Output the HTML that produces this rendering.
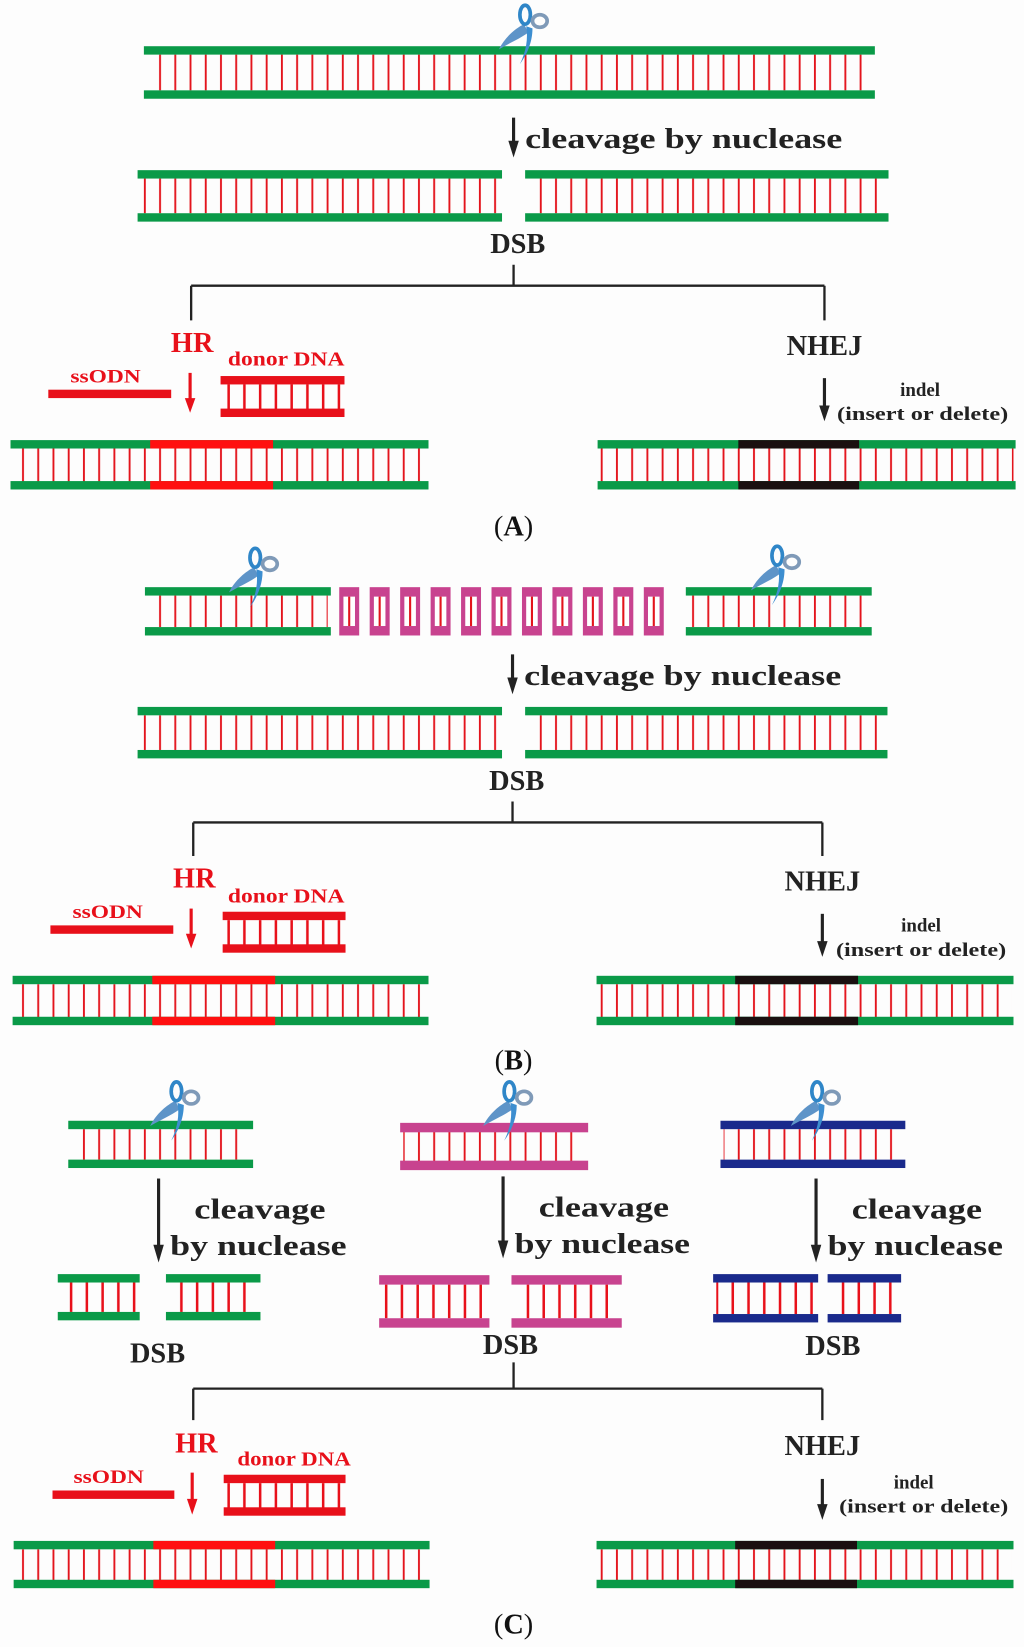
<!DOCTYPE html>
<html><head><meta charset="utf-8"><style>
html,body{margin:0;padding:0;background:#fdfdfd;}
svg{display:block;}
text{font-family:"Liberation Serif",serif;font-weight:bold;}
</style></head><body>
<svg width="1024" height="1647" viewBox="0 0 975 1568" preserveAspectRatio="none" xmlns="http://www.w3.org/2000/svg">
<defs>
<pattern id="r" patternUnits="userSpaceOnUse" width="14.5" height="10"><rect x="6.5" y="0" width="1.8" height="10" fill="#e3141c"/></pattern>
<pattern id="rs" patternUnits="userSpaceOnUse" width="15" height="10"><rect x="6.5" y="0" width="2.4" height="10" fill="#e8101a"/></pattern>
<g id="sc">
<path d="M2,-22 C-6,-18 -16,-10 -22,2 C-12,-4 -2,-8 6,-14Z" fill="#5e94c8"/>
<path d="M4,-20 C6,-8 4,4 -2,16 C4,8 10,-4 10,-18Z" fill="#3d8ed0"/>
<ellipse cx="3" cy="-31" rx="5" ry="9" fill="none" stroke="#2f86c8" stroke-width="3.5"/>
<ellipse cx="17" cy="-25" rx="7" ry="6" fill="none" stroke="#7f9ab8" stroke-width="3.5"/>
</g>
</defs>

<!-- arrows -->
<g fill="#222" stroke="none">
<rect x="487.5" y="112" width="3" height="24"/><path d="M484,134 L494,134 L489,150Z"/>
<rect x="486.5" y="623" width="3" height="24"/><path d="M483,645 L493,645 L488,661Z"/>
<rect x="149.5" y="1122" width="3" height="66"/><path d="M146,1185 L156,1185 L151,1202Z"/>
<rect x="477.5" y="1120" width="3" height="64"/><path d="M474,1181 L484,1181 L479,1198Z"/>
<rect x="775.5" y="1122" width="3" height="66"/><path d="M772,1185 L782,1185 L777,1202Z"/>
<rect x="783.5" y="360" width="3" height="28"/><path d="M780,386 L790,386 L785,401Z"/>
<rect x="781.5" y="870" width="3" height="28"/><path d="M778,896 L788,896 L783,911Z"/>
<rect x="781.5" y="1408" width="3" height="26"/><path d="M778,1432 L788,1432 L783,1447Z"/>
</g>

<!-- ===== Panel A ===== -->
<g>
<rect x="140" y="52" width="690" height="34" fill="url(#r)"/>
<rect x="137" y="44" width="696" height="8" fill="#0a9a48"/>
<rect x="137" y="86" width="696" height="8" fill="#0a9a48"/>
<use href="#sc" x="497" y="45"/>
<text x="500" y="141" font-size="27" textLength="302" lengthAdjust="spacingAndGlyphs" fill="#222">cleavage by nuclease</text>
<rect x="134" y="170" width="341" height="33" fill="url(#r)"/>
<rect x="131" y="162" width="347" height="8" fill="#0a9a48"/>
<rect x="131" y="203" width="347" height="8" fill="#0a9a48"/>
<rect x="503" y="170" width="340" height="33" fill="url(#r)"/>
<rect x="500" y="162" width="346" height="8" fill="#0a9a48"/>
<rect x="500" y="203" width="346" height="8" fill="#0a9a48"/>
<text x="493" y="241" font-size="27" text-anchor="middle" fill="#222">DSB</text>
<path d="M489,252 V272 M182,272 H785 M182,272 V305 M785,272 V305" stroke="#222" stroke-width="2.2" fill="none"/>
<text x="183" y="335" font-size="27" text-anchor="middle" fill="#e8101a">HR</text>
<text x="217" y="348" font-size="19" textLength="111" lengthAdjust="spacingAndGlyphs" fill="#e8101a">donor DNA</text>
<text x="67" y="364" font-size="18" textLength="67" lengthAdjust="spacingAndGlyphs" fill="#e8101a">ssODN</text>
<rect x="46" y="371" width="117" height="8" fill="#e8101a"/>
<line x1="181" y1="355" x2="181" y2="380" stroke="#e8101a" stroke-width="3"/>
<path d="M176,379 L186,379 L181,393Z" fill="#e8101a"/>
<rect x="212" y="366" width="114" height="24" fill="url(#rs)"/>
<rect x="210" y="358" width="118" height="8" fill="#e8101a"/>
<rect x="210" y="389" width="118" height="8" fill="#e8101a"/>
<rect x="12" y="427" width="394" height="32" fill="url(#r)"/>
<rect x="10" y="419" width="398" height="8" fill="#0a9a48"/>
<rect x="10" y="458" width="398" height="8" fill="#0a9a48"/>
<rect x="143" y="419" width="117" height="8" fill="#ff1010"/>
<rect x="143" y="458" width="117" height="8" fill="#ff1010"/>
<text x="785" y="338" font-size="27" text-anchor="middle" fill="#222">NHEJ</text>
<text x="876" y="377" font-size="18" text-anchor="middle" fill="#222">indel</text>
<text x="797" y="400" font-size="18" textLength="163" lengthAdjust="spacingAndGlyphs" fill="#222">(insert or delete)</text>
<rect x="571" y="427" width="394" height="32" fill="url(#r)"/>
<rect x="569" y="419" width="398" height="8" fill="#0a9a48"/>
<rect x="569" y="458" width="398" height="8" fill="#0a9a48"/>
<rect x="703" y="419" width="115" height="8" fill="#1a1010"/>
<rect x="703" y="458" width="115" height="8" fill="#1a1010"/>
<text x="489" y="510" font-size="27" text-anchor="middle" fill="#111" style="font-weight:normal">(<tspan style="font-weight:bold">A</tspan>)</text>
</g>

<!-- ===== Panel B ===== -->
<g>
<rect x="141" y="567" width="171" height="30" fill="url(#r)"/>
<rect x="138" y="559" width="177" height="8" fill="#0a9a48"/>
<rect x="138" y="597" width="177" height="8" fill="#0a9a48"/>
<use href="#sc" x="240" y="562"/>
<g fill="#c8438f">
<rect x="323" y="559" width="19" height="46"/><rect x="352" y="559" width="19" height="46"/><rect x="381" y="559" width="19" height="46"/><rect x="410" y="559" width="19" height="46"/><rect x="439" y="559" width="19" height="46"/><rect x="468" y="559" width="19" height="46"/><rect x="497" y="559" width="19" height="46"/><rect x="526" y="559" width="19" height="46"/><rect x="555" y="559" width="19" height="46"/><rect x="584" y="559" width="19" height="46"/><rect x="613" y="559" width="19" height="46"/>
</g>
<g fill="#fff">
<rect x="327" y="568" width="11" height="28"/><rect x="356" y="568" width="11" height="28"/><rect x="385" y="568" width="11" height="28"/><rect x="414" y="568" width="11" height="28"/><rect x="443" y="568" width="11" height="28"/><rect x="472" y="568" width="11" height="28"/><rect x="501" y="568" width="11" height="28"/><rect x="530" y="568" width="11" height="28"/><rect x="559" y="568" width="11" height="28"/><rect x="588" y="568" width="11" height="28"/><rect x="617" y="568" width="11" height="28"/>
</g>
<g fill="#e3141c">
<rect x="331.5" y="568" width="2" height="28"/><rect x="360.5" y="568" width="2" height="28"/><rect x="389.5" y="568" width="2" height="28"/><rect x="418.5" y="568" width="2" height="28"/><rect x="447.5" y="568" width="2" height="28"/><rect x="476.5" y="568" width="2" height="28"/><rect x="505.5" y="568" width="2" height="28"/><rect x="534.5" y="568" width="2" height="28"/><rect x="563.5" y="568" width="2" height="28"/><rect x="592.5" y="568" width="2" height="28"/><rect x="621.5" y="568" width="2" height="28"/>
</g>
<rect x="656" y="567" width="171" height="30" fill="url(#r)"/>
<rect x="653" y="559" width="177" height="8" fill="#0a9a48"/>
<rect x="653" y="597" width="177" height="8" fill="#0a9a48"/>
<use href="#sc" x="737" y="560"/>
<text x="499" y="652" font-size="27" textLength="302" lengthAdjust="spacingAndGlyphs" fill="#222">cleavage by nuclease</text>
<rect x="134" y="681" width="341" height="33" fill="url(#r)"/>
<rect x="131" y="673" width="347" height="8" fill="#0a9a48"/>
<rect x="131" y="714" width="347" height="8" fill="#0a9a48"/>
<rect x="503" y="681" width="339" height="33" fill="url(#r)"/>
<rect x="500" y="673" width="345" height="8" fill="#0a9a48"/>
<rect x="500" y="714" width="345" height="8" fill="#0a9a48"/>
<text x="492" y="752" font-size="27" text-anchor="middle" fill="#222">DSB</text>
<path d="M488,763 V783 M184,783 H783 M184,783 V815 M783,783 V815" stroke="#222" stroke-width="2.2" fill="none"/>
<text x="185" y="845" font-size="27" text-anchor="middle" fill="#e8101a">HR</text>
<text x="217" y="859" font-size="19" textLength="111" lengthAdjust="spacingAndGlyphs" fill="#e8101a">donor DNA</text>
<text x="69" y="874" font-size="18" textLength="67" lengthAdjust="spacingAndGlyphs" fill="#e8101a">ssODN</text>
<rect x="48" y="881" width="117" height="8" fill="#e8101a"/>
<line x1="182" y1="865" x2="182" y2="890" stroke="#e8101a" stroke-width="3"/>
<path d="M177,889 L187,889 L182,903Z" fill="#e8101a"/>
<rect x="214" y="876" width="113" height="24" fill="url(#rs)"/>
<rect x="212" y="868" width="117" height="8" fill="#e8101a"/>
<rect x="212" y="899" width="117" height="8" fill="#e8101a"/>
<rect x="14" y="937" width="392" height="32" fill="url(#r)"/>
<rect x="12" y="929" width="396" height="8" fill="#0a9a48"/>
<rect x="12" y="968" width="396" height="8" fill="#0a9a48"/>
<rect x="145" y="929" width="117" height="8" fill="#ff1010"/>
<rect x="145" y="968" width="117" height="8" fill="#ff1010"/>
<text x="783" y="848" font-size="27" text-anchor="middle" fill="#222">NHEJ</text>
<text x="877" y="887" font-size="18" text-anchor="middle" fill="#222">indel</text>
<text x="796" y="910" font-size="18" textLength="162" lengthAdjust="spacingAndGlyphs" fill="#222">(insert or delete)</text>
<rect x="570" y="937" width="393" height="32" fill="url(#r)"/>
<rect x="568" y="929" width="397" height="8" fill="#0a9a48"/>
<rect x="568" y="968" width="397" height="8" fill="#0a9a48"/>
<rect x="700" y="929" width="117" height="8" fill="#1a1010"/>
<rect x="700" y="968" width="117" height="8" fill="#1a1010"/>
<text x="489" y="1018" font-size="27" text-anchor="middle" fill="#111" style="font-weight:normal">(<tspan style="font-weight:bold">B</tspan>)</text>
</g>

<!-- ===== Panel C ===== -->
<g>
<rect x="68" y="1075" width="170" height="29" fill="url(#r)"/>
<rect x="65" y="1067" width="176" height="8" fill="#0a9a48"/>
<rect x="65" y="1104" width="176" height="8" fill="#0a9a48"/>
<use href="#sc" x="165" y="1070"/>
<rect x="384" y="1077" width="173" height="29" fill="url(#r)"/>
<rect x="381" y="1069" width="179" height="9" fill="#c8438f"/>
<rect x="381" y="1105" width="179" height="9" fill="#c8438f"/>
<use href="#sc" x="482" y="1070"/>
<rect x="689" y="1075" width="170" height="29" fill="url(#r)"/>
<rect x="686" y="1067" width="176" height="8" fill="#1a2a8c"/>
<rect x="686" y="1104" width="176" height="8" fill="#1a2a8c"/>
<use href="#sc" x="775" y="1070"/>

<text x="185" y="1160" font-size="27" textLength="125" lengthAdjust="spacingAndGlyphs" fill="#222">cleavage</text>
<text x="162" y="1195" font-size="27" textLength="168" lengthAdjust="spacingAndGlyphs" fill="#222">by nuclease</text>
<text x="513" y="1158" font-size="27" textLength="124" lengthAdjust="spacingAndGlyphs" fill="#222">cleavage</text>
<text x="490" y="1193" font-size="27" textLength="167" lengthAdjust="spacingAndGlyphs" fill="#222">by nuclease</text>
<text x="811" y="1160" font-size="27" textLength="124" lengthAdjust="spacingAndGlyphs" fill="#222">cleavage</text>
<text x="788" y="1195" font-size="27" textLength="167" lengthAdjust="spacingAndGlyphs" fill="#222">by nuclease</text>

<rect x="58" y="1221" width="72" height="28" fill="url(#rs)"/>
<rect x="55" y="1213" width="78" height="8" fill="#0a9a48"/>
<rect x="55" y="1249" width="78" height="8" fill="#0a9a48"/>
<rect x="161" y="1221" width="84" height="28" fill="url(#rs)"/>
<rect x="158" y="1213" width="90" height="8" fill="#0a9a48"/>
<rect x="158" y="1249" width="90" height="8" fill="#0a9a48"/>
<rect x="364" y="1223" width="99" height="32" fill="url(#rs)"/>
<rect x="361" y="1214" width="105" height="9" fill="#c8438f"/>
<rect x="361" y="1255" width="105" height="9" fill="#c8438f"/>
<rect x="490" y="1223" width="99" height="32" fill="url(#rs)"/>
<rect x="487" y="1214" width="105" height="9" fill="#c8438f"/>
<rect x="487" y="1255" width="105" height="9" fill="#c8438f"/>
<rect x="682" y="1221" width="94" height="30" fill="url(#rs)"/>
<rect x="679" y="1213" width="100" height="8" fill="#1a2a8c"/>
<rect x="679" y="1251" width="100" height="8" fill="#1a2a8c"/>
<rect x="791" y="1221" width="64" height="30" fill="url(#rs)"/>
<rect x="788" y="1213" width="70" height="8" fill="#1a2a8c"/>
<rect x="788" y="1251" width="70" height="8" fill="#1a2a8c"/>

<text x="150" y="1297" font-size="27" text-anchor="middle" fill="#222">DSB</text>
<text x="486" y="1289" font-size="27" text-anchor="middle" fill="#222">DSB</text>
<text x="793" y="1290" font-size="27" text-anchor="middle" fill="#222">DSB</text>
<path d="M489,1297 V1322 M184,1322 H783 M184,1322 V1352 M783,1322 V1352" stroke="#222" stroke-width="2.2" fill="none"/>

<text x="187" y="1383" font-size="27" text-anchor="middle" fill="#e8101a">HR</text>
<text x="226" y="1395" font-size="19" textLength="108" lengthAdjust="spacingAndGlyphs" fill="#e8101a">donor DNA</text>
<text x="70" y="1412" font-size="18" textLength="67" lengthAdjust="spacingAndGlyphs" fill="#e8101a">ssODN</text>
<rect x="50" y="1419" width="116" height="8" fill="#e8101a"/>
<line x1="183" y1="1402" x2="183" y2="1428" stroke="#e8101a" stroke-width="3"/>
<path d="M178,1427 L188,1427 L183,1442Z" fill="#e8101a"/>
<rect x="215" y="1412" width="112" height="24" fill="url(#rs)"/>
<rect x="213" y="1404" width="116" height="8" fill="#e8101a"/>
<rect x="213" y="1435" width="116" height="8" fill="#e8101a"/>
<rect x="15" y="1475" width="392" height="30" fill="url(#r)"/>
<rect x="13" y="1467" width="396" height="8" fill="#0a9a48"/>
<rect x="13" y="1504" width="396" height="8" fill="#0a9a48"/>
<rect x="146" y="1467" width="116" height="8" fill="#ff1010"/>
<rect x="146" y="1504" width="116" height="8" fill="#ff1010"/>

<text x="783" y="1385" font-size="27" text-anchor="middle" fill="#222">NHEJ</text>
<text x="870" y="1417" font-size="18" text-anchor="middle" fill="#222">indel</text>
<text x="799" y="1440" font-size="18" textLength="161" lengthAdjust="spacingAndGlyphs" fill="#222">(insert or delete)</text>
<rect x="570" y="1475" width="393" height="30" fill="url(#r)"/>
<rect x="568" y="1467" width="397" height="8" fill="#0a9a48"/>
<rect x="568" y="1504" width="397" height="8" fill="#0a9a48"/>
<rect x="700" y="1467" width="116" height="8" fill="#1a1010"/>
<rect x="700" y="1504" width="116" height="8" fill="#1a1010"/>
<text x="489" y="1555" font-size="27" text-anchor="middle" fill="#111" style="font-weight:normal">(<tspan style="font-weight:bold">C</tspan>)</text>
</g>
</svg>
</body></html>
